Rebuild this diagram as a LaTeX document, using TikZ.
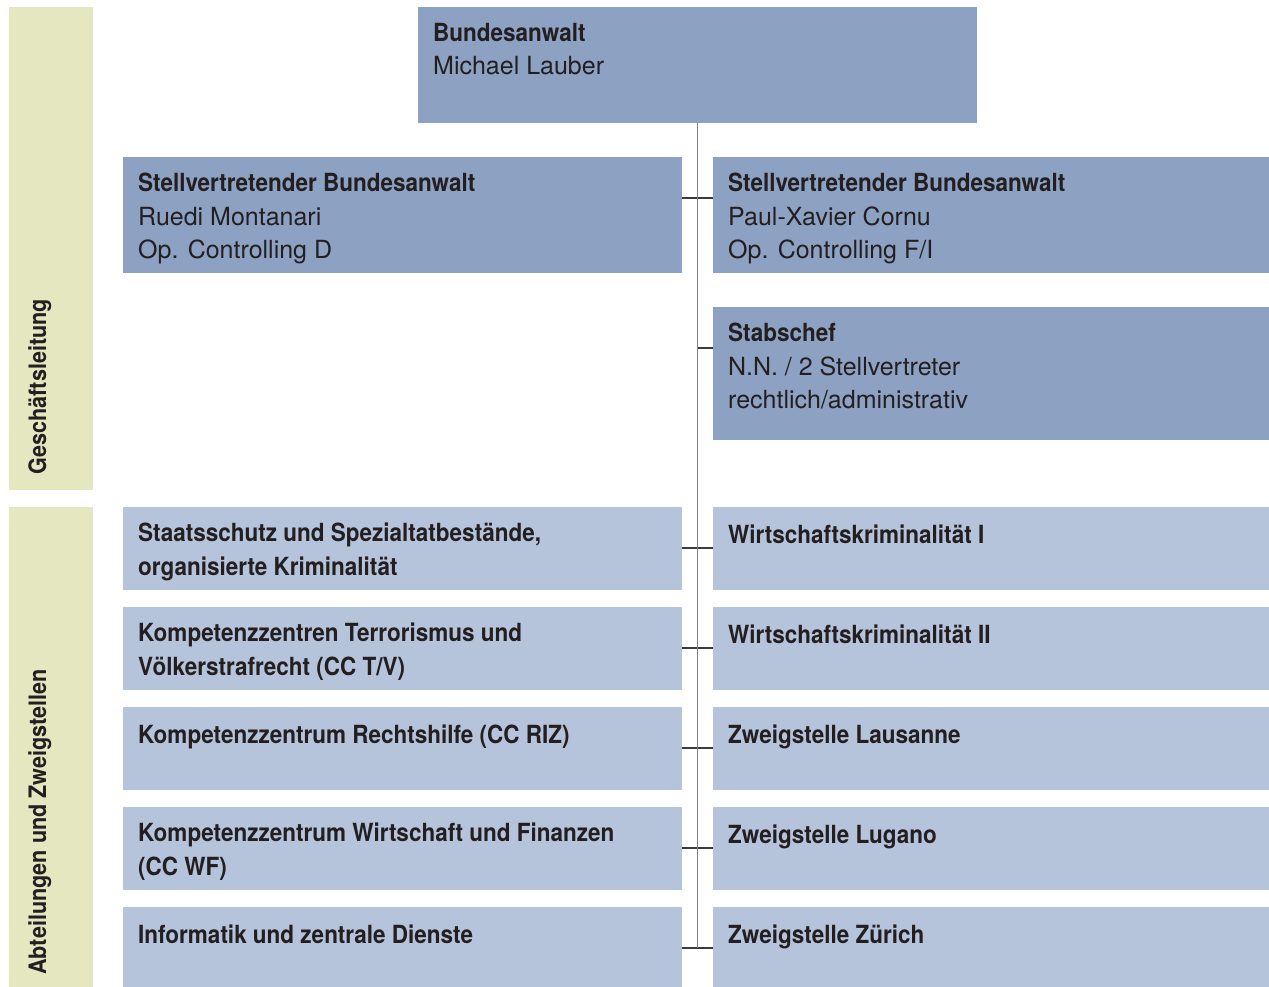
\documentclass[tikz,border=0pt]{standalone}
\usepackage{fontspec}
\setmainfont{TeX Gyre Heros}
\newfontfamily\condb[FakeStretch=0.9]{TeX Gyre Heros}
\definecolor{dbox}{HTML}{8DA1C3}
\definecolor{lbox}{HTML}{B5C3DB}
\definecolor{band}{HTML}{E5E7C1}
\definecolor{ink}{HTML}{231F20}
\definecolor{spinec}{HTML}{808080}
\definecolor{connc}{HTML}{3A3A3A}
\tikzset{
  box/.style={draw=none,inner sep=0pt,outer sep=0pt,anchor=north west},
  darkbox/.style={box,fill=dbox},
  lightbox/.style={box,fill=lbox},
  bandbox/.style={box,fill=band},
  txt/.style={inner sep=0pt,anchor=north west,align=left,text=ink,
    font=\fontsize{25}{33.5}\selectfont,execute at begin node={\rule{0pt}{20pt}}},
  btxt/.style={txt,font=\fontsize{25}{33.5}\selectfont\condb\bfseries},
  sidetxt/.style={inner sep=0pt,anchor=base west,rotate=90,text=ink,
    font=\fontsize{24}{30}\selectfont\condb\bfseries},
  spine/.style={draw=spinec,line width=1.6pt},
  conn/.style={draw=connc,line width=1.4pt}
}
\newcommand{\tb}[1]{{\condb\bfseries #1}}
\begin{document}
\begin{tikzpicture}[x=1pt,y=-1pt]
\useasboundingbox (0,0) rectangle (1269,987);
% side bands
\node[bandbox,minimum width=84pt,minimum height=483pt] (g1) at (9,7) {};
\node[bandbox,minimum width=84pt,minimum height=480pt] (g2) at (9,507) {};
\node[sidetxt] (g1t) at (46,475) {Geschäftsleitung};
\node[sidetxt] (g2t) at (46,975) {Abteilungen und Zweigstellen};
% boxes
\node[darkbox,minimum width=559pt,minimum height=116pt] (top) at (418,7) {};
\node[darkbox,minimum width=559pt,minimum height=116pt] (l1) at (123,157) {};
\node[darkbox,minimum width=556pt,minimum height=116pt] (r1) at (713,157) {};
\node[darkbox,minimum width=556pt,minimum height=133pt] (st) at (713,307) {};
\node[lightbox,minimum width=559pt,minimum height=83pt] (l2) at (123,507) {};
\node[lightbox,minimum width=559pt,minimum height=83pt] (l3) at (123,607) {};
\node[lightbox,minimum width=559pt,minimum height=83pt] (l4) at (123,707) {};
\node[lightbox,minimum width=559pt,minimum height=83pt] (l5) at (123,807) {};
\node[lightbox,minimum width=559pt,minimum height=80pt] (l6) at (123,907) {};
\node[lightbox,minimum width=556pt,minimum height=83pt] (r2) at (713,507) {};
\node[lightbox,minimum width=556pt,minimum height=83pt] (r3) at (713,607) {};
\node[lightbox,minimum width=556pt,minimum height=83pt] (r4) at (713,707) {};
\node[lightbox,minimum width=556pt,minimum height=83pt] (r5) at (713,807) {};
\node[lightbox,minimum width=556pt,minimum height=80pt] (r6) at (713,907) {};
% texts
\node[txt] (topt) at (433,23) {\tb{Bundesanwalt}\\Michael Lauber};
\node[txt] (l1t) at (138,173) {\tb{Stellvertretender Bundesanwalt}\\Ruedi Montanari\\Op. Controlling D};
\node[txt] (r1t) at (728,173) {\tb{Stellvertretender Bundesanwalt}\\Paul-Xavier Cornu\\Op. Controlling F/I};
\node[txt] (stt) at (728,323) {\tb{Stabschef}\\N.N. / 2 Stellvertreter\\rechtlich/administrativ};
\node[btxt] (l2t) at (138,523) {Staatsschutz und Spezialtatbestände,\\organisierte Kriminalität};
\node[btxt] (l3t) at (138,623) {Kompetenzzentren Terrorismus und\\Völkerstrafrecht (CC T/V)};
\node[btxt] (l4t) at (138,723) {Kompetenzzentrum Rechtshilfe (CC RIZ)};
\node[btxt] (l5t) at (138,823) {Kompetenzzentrum Wirtschaft und Finanzen\\(CC WF)};
\node[btxt] (l6t) at (138,923) {Informatik und zentrale Dienste};
\node[btxt] (r2t) at (728,523) {Wirtschaftskriminalität I};
\node[btxt] (r3t) at (728,623) {Wirtschaftskriminalität II};
\node[btxt] (r4t) at (728,723) {Zweigstelle Lausanne};
\node[btxt] (r5t) at (728,823) {Zweigstelle Lugano};
\node[btxt] (r6t) at (728,923) {Zweigstelle Zürich};
% connectors
\foreach \i in {1,...,6}{
  \draw[conn] ([yshift=-41pt]l\i.north east) -- ([yshift=-41pt]r\i.north west);
}
\draw[conn] ([yshift=-41pt]st.north west) -- ([yshift=-41pt]st.north west -| top.south);
\coordinate (spineEnd) at ([yshift=-41pt]l6.north east -| top.south);
\draw[spine] (top.south) -- (spineEnd);
\end{tikzpicture}
\end{document}
